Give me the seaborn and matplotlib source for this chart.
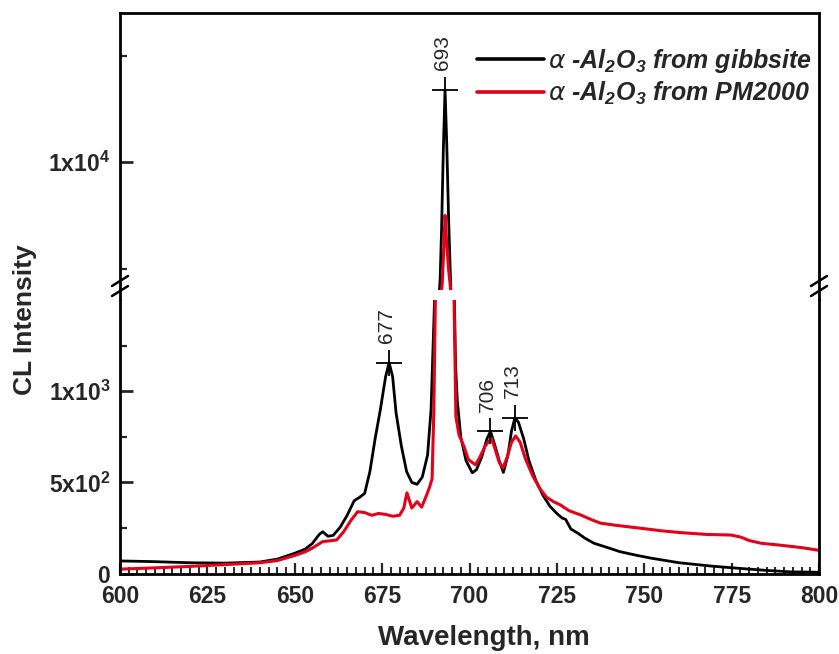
import matplotlib
matplotlib.use("Agg")
import matplotlib.pyplot as plt
import seaborn as sns
from matplotlib.lines import Line2D
from matplotlib.ticker import FixedLocator, MultipleLocator

# ---------------- data ----------------
wl_gibbsite = [600, 610, 620, 630, 640, 645, 650, 653, 655, 657, 658, 659.5, 661, 663, 665,
               667, 668.5, 670, 671.5, 673, 674.5, 676, 677, 678, 679, 680.5, 682, 683.5,
               685, 686.5, 688, 689, 690, 691, 691.6, 692, 692.5, 693, 693.5, 694, 694.6,
               695, 695.5, 696, 696.5, 697.5, 699, 700.8, 702, 703.5, 705, 706, 707, 708.5,
               709.7, 711, 712, 713, 714, 715.5, 717, 719, 721, 723, 725, 726.5, 727.5, 729,
               731, 733, 735.6, 740, 743, 748, 752, 760, 769, 778, 785, 792, 800]
cl_gibbsite = [70, 66, 60, 58, 64, 80, 112, 135, 165, 215, 230, 205, 210, 255, 320,
               400, 418, 440, 560, 740, 900, 1080, 1157, 1080, 880, 700, 560, 500,
               490, 530, 650, 900, 1500, 3000, 4500, 6800, 10500, 13400, 10800, 7500, 4300,
               2800, 1700, 1150, 950, 750, 620, 553, 570, 640, 740, 780, 720, 620,
               555, 650, 780, 855, 830, 740, 620, 510, 430, 370, 330, 305, 298, 245,
               222, 195, 167, 140, 121, 100, 85, 60, 42, 28, 18, 10, 8]

wl_pm2000 = [600, 610, 620, 630, 640, 645, 650, 653, 655, 658, 660, 662, 664, 666, 668,
             670, 672, 674, 676, 678, 680, 681.2, 682.1, 683.5, 685, 686.3, 687.5, 688.5,
             689.3, 689.8, 690.3, 691, 691.7, 692.2, 692.6, 693, 693.4, 694, 694.5, 695,
             695.5, 696.1, 697, 698.4, 699.7, 701.7, 703, 704.5, 705.5, 706.3, 707.2,
             708.5, 709.6, 710.8, 712, 713.2, 714.5, 716, 718, 720, 722, 724, 726, 728.5,
             731.8, 735, 737.5, 742, 749, 755, 760.5, 768, 774.8, 777.7, 780, 783.4, 788,
             792.8, 796, 800]
cl_pm2000 = [25, 32, 40, 50, 60, 72, 100, 120, 140, 176, 180, 185, 230, 290, 340,
             335, 320, 330, 325, 315, 320, 360, 443, 360, 395, 365, 420, 470,
             520, 900, 1600, 2600, 3600, 4300, 5800, 7500, 6400, 5000, 4200, 2800,
             1600, 862, 760, 698, 625, 597, 640, 700, 725, 740, 690,
             610, 580, 640, 720, 755, 720, 630, 540, 470, 420, 395, 377, 345,
             322, 295, 277, 265, 249, 235, 225, 215, 212, 200, 182, 167, 158,
             148, 140, 128]

peak_wl = [677, 693, 706, 713]
peak_cl = [1157, 13400, 780, 855]
peak_labels = ["677", "693", "706", "713"]

x_ticks = [600, 625, 650, 675, 700, 725, 750, 775, 800]
lower_ticks = [0, 500, 1000]
lower_tick_labels = ["0", "5x10$^{2}$", "1x10$^{3}$"]
lower_minor = [250, 750, 1250]
upper_ticks = [10000]
upper_tick_labels = ["1x10$^{4}$"]
upper_minor = [5000, 15000]

series_labels = [r"$\mathit{\alpha}$ -Al$_{2}$O$_{3}$ from gibbsite",
                 r"$\mathit{\alpha}$ -Al$_{2}$O$_{3}$ from PM2000"]
x_label = "Wavelength, nm"
y_label = "CL Intensity"

# ---------------- style ----------------
sns.set_style("white")
plt.rcParams["font.family"] = ["Liberation Sans", "DejaVu Sans"]
plt.rcParams["mathtext.default"] = "regular"

W, H = 839, 654
fig = plt.figure(figsize=(W / 100, H / 100), dpi=100)
L, R = 120 / W, 819 / W
ax_up = fig.add_axes([L, 1 - 290 / H, R - L, (290 - 13) / H])
ax_lo = fig.add_axes([L, 1 - 573.7 / H, R - L, (573.7 - 300) / H])

black = "#000000"
red = "#e2001a"

for ax, lab in ((ax_up, True), (ax_lo, False)):
    sns.lineplot(x=wl_gibbsite, y=cl_gibbsite, ax=ax, color=black, lw=2.0, sort=False,
                 estimator=None, label=series_labels[0] if lab else None, legend=False)
    sns.lineplot(x=wl_pm2000, y=cl_pm2000, ax=ax, color=red, lw=2.2, sort=False,
                 estimator=None, label=series_labels[1] if lab else None, legend=False)
    ax.set_xlim(600, 800)
    for s in ax.spines.values():
        s.set_linewidth(2.0)
        s.set_color("black")
    ax.set_xlabel("")
    ax.set_ylabel("")

ax_up.set_ylim(4000, 17000)
ax_lo.set_ylim(0, 1500)
ax_up.spines["bottom"].set_visible(False)
ax_lo.spines["top"].set_visible(False)

# ticks
ax_up.tick_params(bottom=False, labelbottom=False, top=False, right=False)
ax_up.yaxis.set_major_locator(FixedLocator(upper_ticks))
ax_up.set_yticklabels(upper_tick_labels)
ax_up.yaxis.set_minor_locator(FixedLocator(upper_minor))

ax_lo.yaxis.set_major_locator(FixedLocator(lower_ticks))
ax_lo.set_yticklabels(lower_tick_labels)
ax_lo.yaxis.set_minor_locator(FixedLocator(lower_minor))
ax_lo.xaxis.set_major_locator(FixedLocator(x_ticks))
ax_lo.set_xticklabels([str(t) for t in x_ticks])
ax_lo.xaxis.set_minor_locator(MultipleLocator(2.5))

for ax in (ax_up, ax_lo):
    ax.tick_params(axis="y", which="major", direction="in", length=9, width=2,
                   left=True, right=False, pad=7, labelsize=16.5)
    ax.tick_params(axis="y", which="minor", direction="in", length=5, width=1.6,
                   left=True, right=False)
ax_lo.tick_params(axis="x", which="major", direction="in", length=8, width=1.6,
                  bottom=True, top=False, pad=8, labelsize=16.5)
ax_lo.tick_params(axis="x", which="minor", direction="in", length=5, width=1.4,
                  bottom=True, top=False)
for ax in (ax_up, ax_lo):
    for t in ax.get_xticklabels() + ax.get_yticklabels():
        t.set_fontweight("bold")

# peak markers and labels
for wl, cl, lab in zip(peak_wl, peak_cl, peak_labels):
    ax = ax_up if cl > 1500 else ax_lo
    sns.scatterplot(x=[wl], y=[cl], ax=ax, marker="+", s=330, color="black",
                    linewidth=1.3, zorder=5, legend=False)
    ax.annotate(lab, (wl, cl), xytext=(-2, 14), textcoords="offset points",
                rotation=90, ha="center", va="bottom", fontsize=15)

# legend
leg = ax_up.legend(loc="upper right", bbox_to_anchor=(812 / W, 1 - 47 / H),
                   bbox_transform=fig.transFigure, frameon=False,
                   prop=dict(weight="bold", style="italic", size=18),
                   handlelength=2.7, handletextpad=0.15, labelspacing=0.2,
                   borderaxespad=0, borderpad=0)
for h in leg.get_lines():
    h.set_linewidth(2.6)

# continuous frame through the gap + break marks
for xp in (120, 819):
    fig.add_artist(Line2D([xp / W, xp / W], [1 - 300 / H, 1 - 290 / H],
                          transform=fig.transFigure, color="black", lw=2.0))
    for yc in (281, 291):
        fig.add_artist(Line2D([(xp - 8) / W, (xp + 8) / W],
                              [1 - (yc + 5) / H, 1 - (yc - 5) / H],
                              transform=fig.transFigure, color="black", lw=1.8))

# axis labels
fig.text(25 / W, 1 - 320 / H, y_label, rotation=90, ha="center", va="center",
         fontsize=19, fontweight="bold")
fig.text(484 / W, 1 - 638 / H, x_label, ha="center", va="center",
         fontsize=20, fontweight="bold")

fig.savefig("out.png", dpi=100)
